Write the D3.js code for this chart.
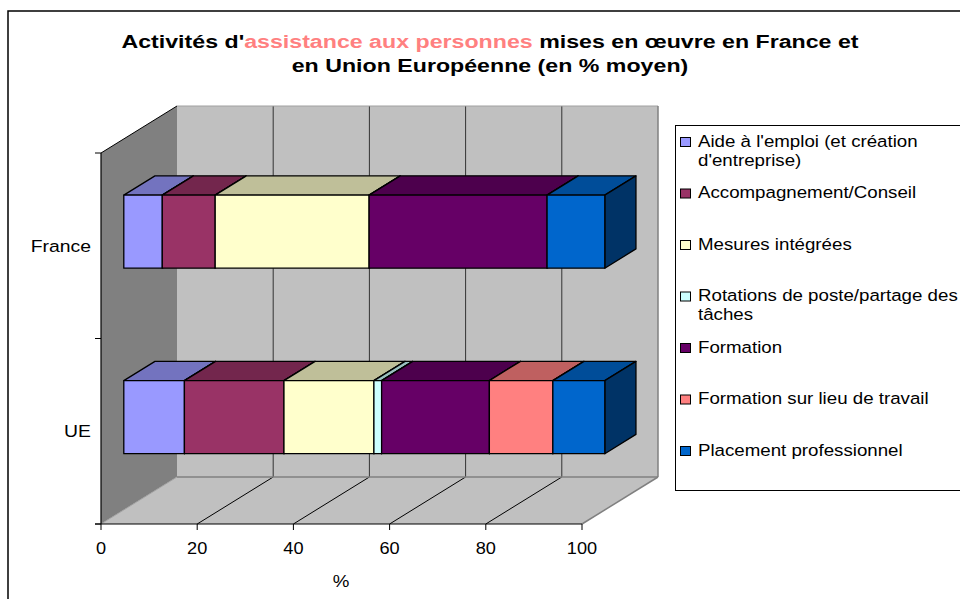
<!DOCTYPE html>
<html>
<head>
<meta charset="utf-8">
<script src="https://cdn.jsdelivr.net/npm/d3@7"></script>
<style>
  html, body { margin: 0; padding: 0; background: #fff; }
  svg { display: block; font-family: "Liberation Sans", Arial, sans-serif; }
</style>
</head>
<body>
<svg id="chart" width="960" height="599"></svg>
<script>
// Categories, top to bottom
const categories = ["France", "UE"];

// Series (stack order, left to right)
const seriesNames = [
  "Aide à l'emploi (et création d'entreprise)",
  "Accompagnement/Conseil",
  "Mesures intégrées",
  "Rotations de poste/partage des tâches",
  "Formation",
  "Formation sur lieu de travail",
  "Placement professionnel"
];
const legendLines = [
  ["Aide à l'emploi (et création", "d'entreprise)"],
  ["Accompagnement/Conseil"],
  ["Mesures intégrées"],
  ["Rotations de poste/partage des", "tâches"],
  ["Formation"],
  ["Formation sur lieu de travail"],
  ["Placement professionnel"]
];
const seriesColors = ["#9999FF", "#993366", "#FFFFCC", "#CCFFFF", "#660066", "#FF8080", "#0066CC"];

// Average share (%) per activity
const franceValues = [8, 11, 32, 0, 37, 0, 12];
const ueValues = [12.6, 20.7, 18.7, 1.6, 22.4, 13.2, 10.8];

const xTicks = [0, 20, 40, 60, 80, 100];
const axisTitle = "%";

const svg = d3.select("#chart");
const FONT = "'Liberation Sans', Arial, sans-serif";

// horizontal stretch of a text around a fixed x
const stretch = (cx, sx) => `translate(${cx},0) scale(${sx},1) translate(${-cx},0)`;

// Front plane of the 3-D box and its depth offset
const X0 = 101, X1 = 582, YT = 153, YB = 524;
const DX = 76, DY = 47;
const proj = (x, y, z) => [x + z * DX, y - z * DY];

const x = d3.scaleLinear().domain([0, 100]).range([X0, X1]);
const yBand = d3.scaleBand().domain(categories).range([YT, YB]).paddingInner(0.606).paddingOuter(0.303);
const yCat = d3.scaleBand().domain(categories).range([YT, YB]);

const poly = pts => "M" + pts.map(p => p.join(",")).join("L") + "Z";
const shade = (c, k) => { const r = d3.rgb(c); return d3.rgb(r.r * k, r.g * k, r.b * k).formatHex(); };

// Chart area border
svg.append("path").attr("d", "M8,599 L8,11 L960,11").attr("fill", "none").attr("stroke", "#000").attr("stroke-width", 1.5);

// Title
const title = svg.append("text").attr("x", 490).attr("y", 48).attr("text-anchor", "middle")
  .attr("font-weight", "bold").attr("font-size", 19).attr("font-family", FONT)
  .attr("transform", stretch(490, 1.22));
title.append("tspan").text("Activités d'");
title.append("tspan").attr("fill", "#FF8080").text("assistance aux personnes");
title.append("tspan").text(" mises en œuvre en France et");
svg.append("text").attr("x", 490).attr("y", 72).attr("text-anchor", "middle")
  .attr("font-weight", "bold").attr("font-size", 19).attr("font-family", FONT)
  .attr("transform", stretch(490, 1.22))
  .text("en Union Européenne (en % moyen)");

// Walls and floor
const g = svg.append("g");
// side wall
g.append("path").attr("d", poly([proj(X0, YT, 0), proj(X0, YT, 1), proj(X0, YB, 1), proj(X0, YB, 0)]))
  .attr("fill", "#808080");
// back wall
g.append("path").attr("d", poly([proj(X0, YT, 1), proj(X1, YT, 1), proj(X1, YB, 1), proj(X0, YB, 1)]))
  .attr("fill", "#C0C0C0");
// floor
g.append("path").attr("d", poly([proj(X0, YB, 0), proj(X0, YB, 1), proj(X1, YB, 1), proj(X1, YB, 0)]))
  .attr("fill", "#C0C0C0");

// back wall and floor gridlines
xTicks.slice(1, -1).forEach(v => {
  const a = proj(x(v), YT, 1), b = proj(x(v), YB, 1);
  g.append("line").attr("x1", a[0]).attr("y1", a[1]).attr("x2", b[0]).attr("y2", b[1])
    .attr("stroke", "#333").attr("stroke-width", 1);
  const c = proj(x(v), YB, 0);
  g.append("line").attr("x1", c[0]).attr("y1", c[1]).attr("x2", b[0]).attr("y2", b[1])
    .attr("stroke", "#000").attr("stroke-width", 1);
});
// wall and floor outlines
const edge = (p, q, col, w) => g.append("line").attr("x1", p[0]).attr("y1", p[1]).attr("x2", q[0]).attr("y2", q[1])
  .attr("stroke", col).attr("stroke-width", w);
edge(proj(X0, YT, 1), proj(X1, YT, 1), "#a0a0a0", 1);
edge(proj(X1, YT, 1), proj(X1, YB, 1), "#808080", 1.5);
edge(proj(X0, YB, 1), proj(X1, YB, 1), "#808080", 1.5);
edge(proj(X1, YB, 0), proj(X1, YB, 1), "#808080", 1.5);
edge(proj(X0, YB, 0), proj(X0, YB, 1), "#a0a0a0", 1);
edge(proj(X0, YT, 0), proj(X0, YT, 1), "#000", 1);

// Category axis (front-left edge)
edge([X0, YT], [X0, YB], "#000", 1.2);
[YT, YT + yCat.bandwidth(), YB].forEach(yy => edge([X0 - 6, yy], [X0, yy], "#000", 1));
categories.forEach(c => {
  svg.append("text").attr("x", 91).attr("y", yCat(c) + yCat.bandwidth() / 2 + 6)
    .attr("text-anchor", "end").attr("font-size", 17).attr("font-family", FONT).attr("fill", "#000")
    .attr("transform", stretch(91, 1.14)).text(c);
});

// Value axis (front floor edge)
edge([X0 - 6, YB], [X1, YB], "#000", 1.2);
xTicks.forEach(v => {
  edge([x(v), YB], [x(v), YB + 6], "#000", 1);
  svg.append("text").attr("x", x(v)).attr("y", 554).attr("text-anchor", "middle")
    .attr("font-size", 17).attr("font-family", FONT).attr("fill", "#000")
    .attr("transform", stretch(x(v), 1.07)).text(v);
});
svg.append("text").attr("x", 341).attr("y", 587).attr("text-anchor", "middle")
  .attr("font-size", 17).attr("font-family", FONT).attr("transform", stretch(341, 1.1)).text(axisTitle);

// Stacked 3-D bars
const Z0 = 0.3, Z1 = 0.71;
const barData = { "France": franceValues, "UE": ueValues };
categories.forEach(cat => {
  const vals = barData[cat];
  const y0 = yBand(cat), y1 = yBand(cat) + yBand.bandwidth();
  let acc = 0;
  const bg = svg.append("g").attr("stroke", "#000").attr("stroke-width", 1.3).attr("stroke-linejoin", "round");
  vals.forEach((v, i) => {
    if (v <= 0) return;
    const xa = x(acc), xb = x(acc + v);
    acc += v;
    const col = seriesColors[i];
    // top face
    bg.append("path").attr("d", poly([proj(xa, y0, Z0), proj(xa, y0, Z1), proj(xb, y0, Z1), proj(xb, y0, Z0)]))
      .attr("fill", shade(col, 0.75));
    // end face
    bg.append("path").attr("d", poly([proj(xb, y0, Z0), proj(xb, y0, Z1), proj(xb, y1, Z1), proj(xb, y1, Z0)]))
      .attr("fill", shade(col, 0.5));
    // front face
    bg.append("path").attr("d", poly([proj(xa, y0, Z0), proj(xb, y0, Z0), proj(xb, y1, Z0), proj(xa, y1, Z0)]))
      .attr("fill", col);
  });
});

// Legend
const lg = svg.append("g");
lg.append("rect").attr("x", 675.5).attr("y", 125.5).attr("width", 300).attr("height", 365)
  .attr("fill", "#fff").attr("stroke", "#000").attr("stroke-width", 1);
seriesNames.forEach((name, i) => {
  const by = 147 + 51.5 * i;
  lg.append("rect").attr("x", 680.5).attr("y", by - 9.5).attr("width", 10).attr("height", 9)
    .attr("fill", seriesColors[i]).attr("stroke", "#000").attr("stroke-width", 1);
  const t = lg.append("text").attr("font-size", 17).attr("font-family", FONT).attr("fill", "#000")
    .attr("transform", stretch(698, 1.1));
  legendLines[i].forEach((line, j) => {
    t.append("tspan").attr("x", 698).attr("y", by + j * 19).text(line);
  });
});
</script>
</body>
</html>
